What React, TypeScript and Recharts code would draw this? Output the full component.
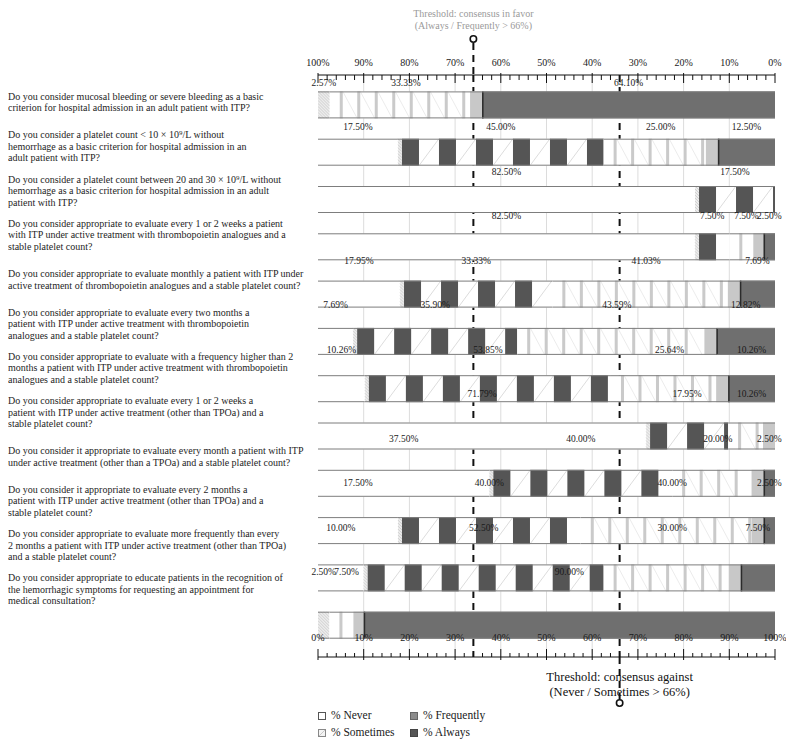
import React from 'react';
import { BarChart, Bar, XAxis, YAxis, CartesianGrid, ReferenceLine, LabelList } from 'recharts';

const QUESTIONS: string[][] = [
  ['Do you consider mucosal bleeding or severe bleeding as a basic', 'criterion for hospital admission in an adult patient with ITP?'],
  ['Do you consider a platelet count < 10 × 10⁹/L without', 'hemorrhage as a basic criterion for hospital admission in an', 'adult patient with ITP?'],
  ['Do you consider a platelet count between 20 and 30 × 10⁹/L without', 'hemorrhage as a basic criterion for hospital admission in an adult', 'patient with ITP?'],
  ['Do you consider appropriate to evaluate every 1 or 2 weeks a patient', 'with ITP under active treatment with thrombopoietin analogues and a', 'stable platelet count?'],
  ['Do you consider appropriate to evaluate monthly a patient with ITP under', 'active treatment of thrombopoietin analogues and a stable platelet count?'],
  ['Do you consider appropriate to evaluate every two months a', 'patient with ITP under active treatment with thrombopoietin', 'analogues and a stable platelet count?'],
  ['Do you consider appropriate to evaluate with a frequency higher than 2', 'months a patient with ITP under active treatment with thrombopoietin', 'analogues and a stable platelet count?'],
  ['Do you consider appropriate to evaluate every 1 or 2 weeks a', 'patient with ITP under active treatment (other than TPOa) and a', 'stable platelet count?'],
  ['Do you consider it appropriate to evaluate every month a patient with ITP', 'under active treatment (other than a TPOa) and a stable platelet count?'],
  ['Do you consider it appropriate to evaluate every 2 months a', 'patient with ITP under active treatment (other than TPOa) and a', 'stable platelet count?'],
  ['Do you consider appropriate to evaluate more frequently than every', '2 months a patient with ITP under active treatment (other than TPOa)', 'and a stable platelet count?'],
  ['Do you consider appropriate to educate patients in the recognition of', 'the hemorrhagic symptoms for requesting an appointment for', 'medical consultation?'],
];

const NEVER = [0, 17.5, 82.5, 82.5, 17.95, 7.69, 10.26, 71.79, 37.5, 17.5, 10, 0];
const SOMETIMES = [2.57, 45, 17.5, 7.5, 33.33, 35.9, 53.85, 17.95, 40, 40, 52.5, 2.5];
const FREQUENTLY = [33.33, 25, 0, 7.5, 41.03, 43.59, 25.64, 10.26, 20, 40, 30, 7.5];
const ALWAYS = [64.1, 12.5, 0, 2.5, 7.69, 12.82, 10.26, 0, 2.5, 2.5, 7.5, 90];

const SERIES_NAMES = ['% Never', '% Sometimes', '% Frequently', '% Always'];

const TICKS = [0, 2, 4, 6, 8, 10, 12, 14, 16, 18, 20, 22, 24, 26, 28, 30, 32, 34, 36, 38, 40, 42, 44, 46, 48, 50,
  52, 54, 56, 58, 60, 62, 64, 66, 68, 70, 72, 74, 76, 78, 80, 82, 84, 86, 88, 90, 92, 94, 96, 98, 100];
const GRID_VALUES = [10, 20, 30, 40, 50, 60, 70, 80, 90];

const THRESHOLD_FAVOR = 34; // bottom-axis position of "Always/Frequently > 66%"
const THRESHOLD_AGAINST = 66;
const FAVOR_TEXT = ['Threshold: consensus in favor', '(Always / Frequently > 66%)'];
const AGAINST_TEXT = ['Threshold: consensus against', '(Never / Sometimes > 66%)'];

const rows = QUESTIONS.map((q, i) => ({
  q: 'Q' + (i + 1),
  never: NEVER[i],
  sometimes: SOMETIMES[i],
  frequently: FREQUENTLY[i],
  always: ALWAYS[i],
}));

const FONT = '"Liberation Serif", "Times New Roman", serif';
const BORDER = '#7d7d7d';
const DASH = '7 5';

const Edges = ({ x, y, width, height }: any) => (
  <g>
    <line x1={x} x2={x + width} y1={y + 0.5} y2={y + 0.5} stroke={BORDER} strokeWidth={1} />
    <line x1={x} x2={x + width} y1={y + height - 0.5} y2={y + height - 0.5} stroke={BORDER} strokeWidth={1} />
  </g>
);

const NeverShape = (p: any) => {
  const { x, y, width, height } = p;
  if (!width || width <= 0) return <g />;
  return (
    <g>
      <rect x={x} y={y} width={width} height={height} fill="#ffffff" />
      <Edges x={x} y={y} width={width} height={height} />
    </g>
  );
};

const SometimesShape = (p: any) => {
  const { x, y, width, height } = p;
  if (!width || width <= 0) return <g />;
  const parts: any[] = [];
  parts.push(<rect key="b" x={x} y={y} width={width} height={height} fill="#ffffff" />);
  const hw = width < 15 ? width : 4;
  parts.push(<rect key="h" x={x} y={y} width={hw} height={height} fill="#ececec" />);
  for (let k = 0; k * 3 < hw + height; k++) {
    const x0 = x + k * 3;
    parts.push(
      <line key={'hl' + k} x1={Math.min(x0, x + hw)} y1={y + height - Math.max(0, x0 - (x + hw))}
        x2={Math.max(x, x0 - height)} y2={y + height - Math.min(height, x0 - Math.max(x, x0 - height))}
        stroke="#b5b5b5" strokeWidth={0.5} />
    );
  }
  if (width >= 15) {
    let k = 0;
    for (let px = x + 4; px < x + width - 1; px += 37) {
      const w = Math.min(17, x + width - px);
      parts.push(<rect key={'d' + k} x={px} y={y} width={w} height={height} fill="#555555" />);
      const wx = px + 17;
      if (wx + 20 <= x + width) {
        parts.push(<line key={'g' + k} x1={wx} y1={y + height} x2={wx + 20} y2={y} stroke="#c4c4c4" strokeWidth={0.6} />);
      }
      k++;
    }
  }
  return (
    <g>
      {parts}
      <Edges x={x} y={y} width={width} height={height} />
    </g>
  );
};

const FrequentlyShape = (p: any) => {
  const { x, y, width, height } = p;
  if (!width || width <= 0) return <g />;
  const parts: any[] = [];
  parts.push(<rect key="b" x={x} y={y} width={width} height={height} fill="#ffffff" />);
  const endBlock = Math.min(12, width * 0.3);
  let k = 0;
  for (let px = x + 10; px < x + width - endBlock - 3; px += 17.5) {
    parts.push(<rect key={'s' + k} x={px} y={y} width={3} height={height} fill="#cacaca" />);
    if (px + 17.5 < x + width - endBlock) {
      parts.push(<line key={'l' + k} x1={px + 3} y1={y} x2={px + 17.5} y2={y + height} stroke="#dedede" strokeWidth={0.6} />);
    }
    k++;
  }
  parts.push(<rect key="e" x={x + width - endBlock} y={y} width={endBlock} height={height} fill="#c8c8c8" />);
  return (
    <g>
      {parts}
      <Edges x={x} y={y} width={width} height={height} />
    </g>
  );
};

const AlwaysShape = (p: any) => {
  const { x, y, width, height } = p;
  if (!width || width <= 0) return <g />;
  return (
    <g>
      <rect x={x} y={y} width={width} height={height} fill="#6f6f6f" />
      <line x1={x + 0.75} x2={x + 0.75} y1={y} y2={y + height} stroke="#2b2b2b" strokeWidth={1.5} />
      <Edges x={x} y={y} width={width} height={height} />
    </g>
  );
};

const renderValueLabel = (props: any) => {
  const { x, y, width, height, value, index } = props;
  if (!value) return null;
  const off = -22 - 2.8 * index;
  return (
    <text x={x + width / 2} y={y + height / 2 + off} textAnchor="middle" dominantBaseline="central"
      fontSize={9.5} fill="#1a1a1a" fontFamily={FONT}>
      {Number(value).toFixed(2) + '%'}
    </text>
  );
};

const QuestionTick = (props: any) => {
  const { y, index } = props;
  const lines = QUESTIONS[index] || [];
  const lh = 11.5;
  const cy = y - 3.5 - 3 * index;
  const y0 = cy - ((lines.length - 1) * lh) / 2;
  return (
    <text x={0} y={y0} fontSize={10} fill="#1e1e1e" fontFamily={FONT} dominantBaseline="central">
      {lines.map((l, k) => (
        <tspan key={k} x={0} y={y0 + k * lh}>{l}</tspan>
      ))}
    </text>
  );
};

const TopTick = (props: any) => {
  const { x, y, payload } = props;
  const v = payload.value;
  const major = v % 10 === 0;
  return (
    <g>
      <line x1={x} x2={x} y1={major ? y - 2 : y} y2={major ? y + 8 : y + 5} stroke="#111" strokeWidth={1} />
      {major && (
        <text x={x} y={y - 13} textAnchor="middle" dominantBaseline="central" fontSize={10} fill="#1a1a1a" fontFamily={FONT}>
          {v + '%'}
        </text>
      )}
    </g>
  );
};

const BottomTick = (props: any) => {
  const { x, y, payload } = props;
  const v = payload.value;
  const major = v % 10 === 0;
  return (
    <g>
      <line x1={x} x2={x} y1={major ? y + 3 : y} y2={major ? y - 8 : y - 4} stroke="#111" strokeWidth={1} />
      {major && (
        <text x={x} y={y - 20} textAnchor="middle" dominantBaseline="central" fontSize={10} fill="#1a1a1a" fontFamily={FONT}>
          {v + '%'}
        </text>
      )}
    </g>
  );
};

// Extensions of the threshold lines outside the plot (inside the plot they are drawn by a grid beneath the bars)
const FavorLine = (p: any) => {
  const top = Math.min(p.y1, p.y2);
  const x = p.x1;
  return (
    <g>
      <line x1={x} x2={x} y1={top - 32} y2={top} stroke="#111" strokeWidth={2} strokeDasharray={DASH} />
      <circle cx={x} cy={top - 36} r={3.2} fill="#fff" stroke="#111" strokeWidth={1.6} />
      <text x={x} y={top - 62} textAnchor="middle" dominantBaseline="central" fontSize={10} fill="#9a9a9a" fontFamily={FONT}>{FAVOR_TEXT[0]}</text>
      <text x={x} y={top - 50} textAnchor="middle" dominantBaseline="central" fontSize={10} fill="#9a9a9a" fontFamily={FONT}>{FAVOR_TEXT[1]}</text>
    </g>
  );
};

const AgainstLine = (p: any) => {
  const bottom = Math.max(p.y1, p.y2);
  const x = p.x1;
  return (
    <g>
      <text x={x} y={bottom + 20} textAnchor="middle" dominantBaseline="central" fontSize={12.5} fill="#111" fontFamily={FONT}>{AGAINST_TEXT[0]}</text>
      <text x={x} y={bottom + 34.5} textAnchor="middle" dominantBaseline="central" fontSize={12.5} fill="#111" fontFamily={FONT}>{AGAINST_TEXT[1]}</text>
      <line x1={x} x2={x} y1={bottom} y2={bottom + 42} stroke="#111" strokeWidth={2} strokeDasharray={DASH} />
      <circle cx={x} cy={bottom + 46} r={3.2} fill="#fff" stroke="#111" strokeWidth={1.6} />
    </g>
  );
};

const LegendSymbol = ({ i }: { i: number }) => {
  const fills = ['#ffffff', '#f4f4f4', '#8c8c8c', '#555555'];
  const strokes = ['#555', '#888', '#666', '#444'];
  return (
    <svg width={8} height={8} style={{ display: 'inline-block', marginRight: 5, verticalAlign: 'middle' }}>
      <rect x={0.5} y={0.5} width={7} height={7} fill={fills[i]} stroke={strokes[i]} strokeWidth={1} />
      {i === 1 && <line x1={1} y1={7} x2={7} y2={1} stroke="#aaa" strokeWidth={0.6} />}
    </svg>
  );
};

export default function App() {
  const legendPos = [
    { left: 310, top: 699 },
    { left: 310, top: 716 },
    { left: 402, top: 699 },
    { left: 402, top: 716 },
  ];
  return (
    <div style={{ position: 'relative', width: 778, height: 731, fontFamily: FONT }}>
      <BarChart
        width={778}
        height={731}
        layout="vertical"
        data={rows}
        margin={{ top: 37, right: 11, bottom: 52, left: 0 }}
        barSize={27}
      >
        <CartesianGrid xAxisId="bottom" horizontal={false} vertical={true} verticalValues={GRID_VALUES} stroke="#dcdcdc" />
        <CartesianGrid xAxisId="bottom" horizontal={false} vertical={true} verticalValues={[THRESHOLD_FAVOR, THRESHOLD_AGAINST]}
          stroke="#111" strokeWidth={2} strokeDasharray={DASH} />
        <XAxis xAxisId="top" orientation="top" type="number" domain={[0, 100]} reversed ticks={TICKS} interval={0}
          height={30} tickSize={0} tickMargin={0} tickLine={false} axisLine={{ stroke: '#111' }} tick={<TopTick />} allowDataOverflow />
        <XAxis xAxisId="bottom" orientation="bottom" type="number" domain={[0, 100]} ticks={TICKS} interval={0}
          height={30} tickSize={0} tickMargin={0} tickLine={false} axisLine={{ stroke: '#111' }} tick={<BottomTick />} allowDataOverflow />
        <YAxis type="category" dataKey="q" width={310} axisLine={false} tickLine={false} padding={{ top: 6.4, bottom: 8 }}
          tick={<QuestionTick />} interval={0} />
        <ReferenceLine xAxisId="bottom" x={THRESHOLD_FAVOR} shape={FavorLine} />
        <ReferenceLine xAxisId="bottom" x={THRESHOLD_AGAINST} shape={AgainstLine} />
        <Bar xAxisId="bottom" dataKey="never" name={SERIES_NAMES[0]} stackId="a" shape={NeverShape} isAnimationActive={false}>
          <LabelList dataKey="never" content={renderValueLabel} />
        </Bar>
        <Bar xAxisId="bottom" dataKey="sometimes" name={SERIES_NAMES[1]} stackId="a" shape={SometimesShape} isAnimationActive={false}>
          <LabelList dataKey="sometimes" content={renderValueLabel} />
        </Bar>
        <Bar xAxisId="bottom" dataKey="frequently" name={SERIES_NAMES[2]} stackId="a" shape={FrequentlyShape} isAnimationActive={false}>
          <LabelList dataKey="frequently" content={renderValueLabel} />
        </Bar>
        <Bar xAxisId="bottom" dataKey="always" name={SERIES_NAMES[3]} stackId="a" shape={AlwaysShape} isAnimationActive={false}>
          <LabelList dataKey="always" content={renderValueLabel} />
        </Bar>
      </BarChart>
      {SERIES_NAMES.map((n, i) => (
        <div key={n} style={{ position: 'absolute', left: legendPos[i].left, top: legendPos[i].top, fontSize: 11.5, lineHeight: '16px', color: '#1a1a1a', whiteSpace: 'nowrap' }}>
          <LegendSymbol i={i} />
          {n}
        </div>
      ))}
    </div>
  );
}
